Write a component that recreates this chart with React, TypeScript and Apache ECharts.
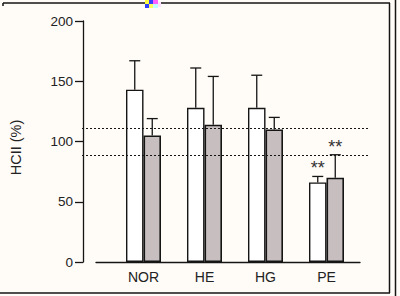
import React, { useEffect, useRef } from "react";
import * as echarts from "echarts";

const categories = ["NOR", "HE", "HG", "PE"];
const whiteMean = [143, 128, 128, 66];
const whiteSD = [24, 33, 27, 5];
const greyMean = [105, 114, 110, 70];
const greySD = [14, 40, 10, 19];
const whiteStars = ["", "", "", "**"];
const greyStars = ["", "", "", "**"];
const refLines = [111, 89];
const yTicks = { min: 0, max: 200, interval: 50 };

const FONT = "Liberation Sans, Arial, Helvetica, sans-serif";
const INK = "#151515";
const BAR_W = 17.5;

function errorSeries(mean: number[], sd: number[], stars: string[], offset: number) {
  return {
    type: "custom",
    xAxisIndex: 1,
    yAxisIndex: 1,
    z: 5,
    encode: { x: 0, y: 1 },
    data: categories.map((_, i) => [i, mean[i], sd[i]]),
    renderItem: (params: any, api: any) => {
      const idx = api.value(0);
      const m = api.value(1);
      const s = api.value(2);
      const base = api.coord([idx, m]);
      const top = api.coord([idx, m + s]);
      const x = base[0] + offset;
      const children: any[] = [
        { type: "line", shape: { x1: x, y1: base[1], x2: x, y2: top[1] }, style: { stroke: INK, lineWidth: 1.3 } },
        { type: "line", shape: { x1: x - 5.5, y1: top[1], x2: x + 5.5, y2: top[1] }, style: { stroke: INK, lineWidth: 1.3 } },
      ];
      const st = stars[params.dataIndex];
      if (st) {
        children.push({
          type: "text",
          x,
          y: top[1] + 1,
          style: { text: st, align: "center", verticalAlign: "bottom", fontSize: 18, fontFamily: FONT, fill: "#333" },
        });
      }
      return { type: "group", children };
    },
  };
}

export default function App() {
  const ref = useRef<HTMLDivElement>(null);
  useEffect(() => {
    document.body.style.margin = "0";
    const chart = echarts.init(ref.current!, null, { renderer: "svg" });
    const gridTop = 21;
    const gridBottom = 34;
    chart.setOption({
      animation: false,
      backgroundColor: "#fffbf7",
      grid: [
        { left: 80, right: 40, top: gridTop, bottom: gridBottom },
        { left: 113, right: 43, top: gridTop, bottom: gridBottom },
        { left: 82, right: 30, top: gridTop, bottom: gridBottom },
      ],
      xAxis: [
        {
          gridIndex: 0, type: "value", min: 0, max: 1,
          axisLine: { show: true, onZero: false, lineStyle: { color: INK, width: 1.3 } },
          axisTick: { show: false }, axisLabel: { show: false }, splitLine: { show: false },
        },
        {
          gridIndex: 1, type: "category", data: categories,
          axisLine: { show: false }, axisTick: { show: false }, splitLine: { show: false },
          axisLabel: { margin: 8, fontSize: 14, fontFamily: FONT, color: "#222" },
        },
        { gridIndex: 2, type: "value", min: 0, max: 1, show: false },
      ],
      yAxis: [
        {
          gridIndex: 0, type: "value", ...yTicks, offset: 13,
          axisLine: { show: true, onZero: false, lineStyle: { color: INK, width: 1.3 } },
          axisTick: { show: true, length: 8, lineStyle: { color: INK, width: 1.3 } },
          axisLabel: { margin: 10, fontSize: 13.5, fontFamily: FONT, color: "#222" },
          splitLine: { show: false },
          name: "HCII (%)",
          nameLocation: "middle",
          nameRotate: 90,
          nameGap: 60,
          nameTextStyle: { fontSize: 14.5, fontFamily: FONT, color: "#222", padding: [0, 12, 0, 0] },
        },
        { gridIndex: 1, type: "value", ...yTicks, show: false },
        { gridIndex: 2, type: "value", ...yTicks, show: false },
      ],
      series: [
        {
          type: "bar", xAxisIndex: 1, yAxisIndex: 1, data: whiteMean,
          barWidth: BAR_W, barGap: "0%",
          itemStyle: { color: "#ffffff", borderColor: INK, borderWidth: 1.4 },
        },
        {
          type: "bar", xAxisIndex: 1, yAxisIndex: 1, data: greyMean,
          barWidth: BAR_W, barGap: "0%",
          itemStyle: { color: "#c7bfbf", borderColor: INK, borderWidth: 1.6 },
        },
        errorSeries(whiteMean, whiteSD, whiteStars, -BAR_W / 2),
        errorSeries(greyMean, greySD, greyStars, BAR_W / 2),
        {
          type: "line", xAxisIndex: 2, yAxisIndex: 2, data: [],
          markLine: {
            silent: true, symbol: "none", label: { show: false },
            lineStyle: { color: INK, type: [2, 2], width: 1 },
            data: refLines.map((v) => ({ yAxis: v })),
          },
        },
      ],
      graphic: [
        { type: "line", shape: { x1: 3, y1: 3, x2: 390, y2: 3 }, style: { stroke: INK, lineWidth: 1.5 } },
        { type: "line", shape: { x1: 3, y1: 3, x2: 3, y2: 6 }, style: { stroke: INK, lineWidth: 1.5 } },
        { type: "line", shape: { x1: 389.5, y1: 3, x2: 389.5, y2: 293 }, style: { stroke: INK, lineWidth: 1.5 } },
        { type: "line", shape: { x1: 0, y1: 293, x2: 390, y2: 293 }, style: { stroke: INK, lineWidth: 1.5 } },
        { type: "line", shape: { x1: 395.5, y1: 0, x2: 395.5, y2: 296 }, style: { stroke: INK, lineWidth: 1.5 } },
        {
          type: "group", x: 145, y: 0, z: 10,
          children: [
            { type: "rect", shape: { x: 0, y: 0, width: 4, height: 4 }, style: { fill: "#ffff40" } },
            { type: "rect", shape: { x: 4, y: 0, width: 4, height: 4 }, style: { fill: "#3040ff" } },
            { type: "rect", shape: { x: 8, y: 0, width: 5, height: 4 }, style: { fill: "#ff60ff" } },
            { type: "rect", shape: { x: 0, y: 4, width: 4, height: 4 }, style: { fill: "#3040ff" } },
            { type: "rect", shape: { x: 4, y: 4, width: 4, height: 4 }, style: { fill: "#ffff60" } },
            { type: "rect", shape: { x: 8, y: 4, width: 5, height: 4 }, style: { fill: "#c0ffff" } },
            { type: "rect", shape: { x: 13, y: 2, width: 3, height: 5 }, style: { fill: "#ffe0ff" } },
          ],
        },
      ],
    });
    return () => chart.dispose();
  }, []);
  return (
    <div
      ref={ref}
      style={{ width: 400, height: 296, position: "absolute", left: 0, top: 0 }}
    />
  );
}
